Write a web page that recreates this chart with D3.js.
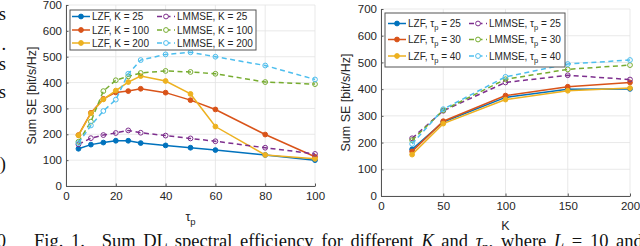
<!DOCTYPE html>
<html>
<head>
<meta charset="utf-8">
<script src="https://d3js.org/d3.v7.min.js"></script>
<style>
  body { margin: 0; background: #fff; }
  svg { display: block; }
  .tick text { font-family: "Liberation Sans", Arial, sans-serif; font-size: 11.5px; fill: #262626; }
</style>
</head>
<body>
<svg id="chart"></svg>
<script>
// left panel: sum SE vs tau_p
var tauVals = [5, 10, 15, 20, 25, 30, 40, 50, 60, 80, 100];
var lzfK25 = [144, 160, 168, 175, 175, 166, 157, 148, 139, 120, 100];
var lzfK100 = [197, 283, 337, 362, 367, 376, 361, 332, 296, 199, 113];
var lzfK200 = [196, 281, 335, 369, 402, 425, 406, 356, 230, 120, 105];
var lmmseK25 = [161, 185, 197, 205, 215, 206, 195, 184, 173, 148, 124];
var lmmseK100 = [171, 249, 367, 409, 424, 437, 445, 441, 434, 402, 394];
var lmmseK200 = [166, 234, 290, 334, 434, 487, 509, 517, 500, 466, 412];

// right panel: sum SE vs K
var kVals = [25, 50, 100, 150, 200];
var lzfT25 = [175, 277, 369, 400, 401];
var lzfT30 = [167, 280, 376, 409, 425];
var lzfT40 = [155, 271, 361, 394, 404];
var lmmseT25 = [216, 319, 425, 452, 436];
var lmmseT30 = [209, 321, 437, 474, 490];
var lmmseT40 = [195, 325, 446, 494, 509];

var yTicks = [0, 100, 200, 300, 400, 500, 600, 700];
var leftXTicks = [0, 20, 40, 60, 80, 100];
var rightXTicks = [0, 50, 100, 150, 200];

var colors = ["#0072BD", "#D95319", "#EDB120", "#7E2F8E", "#77AC30", "#4DBEEE"];
var sans = "'Liberation Sans', Arial, sans-serif";
var serif = "'Liberation Serif', 'Times New Roman', serif";

var width = 640, height = 246;
var svg = d3.select("#chart").attr("width", width).attr("height", height);

function drawPanel(p) {
    var x = d3.scaleLinear().domain([0, p.xmax]).range([p.left, p.right]);
    var y = d3.scaleLinear().domain([0, 700]).range([p.bottom, p.top]);
    var g = svg.append("g");

    // grid
    g.selectAll(".gx").data(p.xTicks).enter().append("line")
        .attr("x1", function(d) { return x(d); }).attr("x2", function(d) { return x(d); })
        .attr("y1", p.top).attr("y2", p.bottom)
        .attr("stroke", "#e3e3e3").attr("stroke-width", 0.8);
    g.selectAll(".gy").data(yTicks).enter().append("line")
        .attr("x1", p.left).attr("x2", p.right)
        .attr("y1", function(d) { return y(d); }).attr("y2", function(d) { return y(d); })
        .attr("stroke", "#e3e3e3").attr("stroke-width", 0.8);

    var xAxis = g.append("g").attr("transform", "translate(0," + p.bottom + ")")
        .call(d3.axisBottom(x).tickValues(p.xTicks).tickSizeInner(-2.5).tickSizeOuter(0).tickPadding(6));
    var yAxis = g.append("g").attr("transform", "translate(" + p.left + ",0)")
        .call(d3.axisLeft(y).tickValues(yTicks).tickSizeInner(-2.5).tickSizeOuter(0).tickPadding(4));
    [xAxis, yAxis].forEach(function(a) {
        a.select(".domain").attr("stroke", "#555");
        a.selectAll(".tick line").attr("stroke", "#555");
    });

    // y label
    g.append("text")
        .attr("transform", "translate(" + p.ylabelX + "," + ((p.top + p.bottom) / 2) + ") rotate(-90)")
        .attr("text-anchor", "middle")
        .style("font-family", sans).style("font-size", "12.5px").attr("fill", "#262626")
        .text("Sum SE [bit/s/Hz]");

    // x label
    var xl = g.append("text")
        .attr("x", (p.left + p.right) / 2).attr("y", p.xlabelY)
        .attr("text-anchor", "middle")
        .style("font-family", sans).style("font-size", "12.5px").attr("fill", "#262626");
    if (p.xlabelSub) {
        xl.append("tspan").text(p.xlabel);
        xl.append("tspan").attr("dy", 4).style("font-size", "9.5px").text(p.xlabelSub);
    } else {
        xl.text(p.xlabel);
    }

    var line = d3.line()
        .x(function(d) { return x(d[0]); })
        .y(function(d) { return y(d[1]); });

    p.series.forEach(function(s, i) {
        var pts = p.xVals.map(function(v, j) { return [v, s.values[j]]; });
        g.append("path").datum(pts)
            .attr("d", line).attr("fill", "none")
            .attr("stroke", colors[i]).attr("stroke-width", 1.5)
            .attr("stroke-dasharray", s.dashed ? "5,3.5" : null);
        g.selectAll(".m" + i).data(pts).enter().append("circle")
            .attr("cx", function(d) { return x(d[0]); })
            .attr("cy", function(d) { return y(d[1]); })
            .attr("r", 2.4)
            .attr("fill", s.dashed ? "none" : colors[i])
            .attr("stroke", colors[i]).attr("stroke-width", 1);
    });

    // legend
    var L = p.legend;
    var lg = g.append("g");
    lg.append("rect").attr("x", L.x).attr("y", L.y).attr("width", L.w).attr("height", L.h)
        .attr("fill", "#fff").attr("stroke", "#555").attr("stroke-width", 1);
    p.series.forEach(function(s, i) {
        var col = i < 3 ? 0 : 1, row = i % 3;
        var lx = L.colX[col], ly = L.rowY[row];
        lg.append("line").attr("x1", lx).attr("x2", lx + 18).attr("y1", ly).attr("y2", ly)
            .attr("stroke", colors[i]).attr("stroke-width", 1.5)
            .attr("stroke-dasharray", s.dashed ? "5,3.5" : null);
        lg.append("circle").attr("cx", lx + 9).attr("cy", ly).attr("r", 2.4)
            .attr("fill", s.dashed ? "#fff" : colors[i])
            .attr("stroke", colors[i]).attr("stroke-width", 1);
        var t = lg.append("text").attr("x", lx + 20).attr("y", ly + 3.6)
            .style("font-family", sans).style("font-size", "10px").attr("fill", "#262626");
        t.append("tspan").text(s.prefix);
        if (s.sub) {
            t.append("tspan").attr("dy", 3).style("font-size", "7.5px").text(s.sub);
            t.append("tspan").attr("dy", -3).text(s.suffix);
        } else {
            t.append("tspan").text(s.suffix);
        }
    });
}

drawPanel({
    left: 66, right: 315, top: 5, bottom: 186, xmax: 100,
    xTicks: leftXTicks, xVals: tauVals,
    ylabelX: 36, xlabelY: 221, xlabel: "\u03C4", xlabelSub: "p",
    series: [
        { values: lzfK25, prefix: "LZF, K = 25", suffix: "" },
        { values: lzfK100, prefix: "LZF, K = 100", suffix: "" },
        { values: lzfK200, prefix: "LZF, K = 200", suffix: "" },
        { values: lmmseK25, dashed: true, prefix: "LMMSE, K = 25", suffix: "" },
        { values: lmmseK100, dashed: true, prefix: "LMMSE, K = 100", suffix: "" },
        { values: lmmseK200, dashed: true, prefix: "LMMSE, K = 200", suffix: "" }
    ],
    legend: { x: 70, y: 10, w: 186, h: 40, colX: [72, 157], rowY: [16.5, 30, 43] }
});

drawPanel({
    left: 381, right: 630, top: 9, bottom: 196, xmax: 200,
    xTicks: rightXTicks, xVals: kVals,
    ylabelX: 350, xlabelY: 230, xlabel: "K",
    series: [
        { values: lzfT25, prefix: "LZF, \u03C4", sub: "p", suffix: " = 25" },
        { values: lzfT30, prefix: "LZF, \u03C4", sub: "p", suffix: " = 30" },
        { values: lzfT40, prefix: "LZF, \u03C4", sub: "p", suffix: " = 40" },
        { values: lmmseT25, dashed: true, prefix: "LMMSE, \u03C4", sub: "p", suffix: " = 25" },
        { values: lmmseT30, dashed: true, prefix: "LMMSE, \u03C4", sub: "p", suffix: " = 30" },
        { values: lmmseT40, dashed: true, prefix: "LMMSE, \u03C4", sub: "p", suffix: " = 40" }
    ],
    legend: { x: 385, y: 13, w: 180, h: 54, colX: [388, 469], rowY: [23.5, 39.5, 56] }
});

// caption of the figure, cut by the bottom edge (justified, so wider word gaps)
var cap = svg.append("text").attr("x", 34).attr("y", 247)
    .style("font-family", serif).style("font-size", "18.5px").style("word-spacing", "3px").attr("fill", "#111");
cap.append("tspan").text("Fig. 1.\u2002 Sum DL spectral efficiency for different ");
cap.append("tspan").style("font-style", "italic").text("K");
cap.append("tspan").text(" and ");
cap.append("tspan").style("font-style", "italic").text("\u03C4");
cap.append("tspan").attr("dy", 4).style("font-size", "13px").text("p");
cap.append("tspan").attr("dy", -4).text(", where ");
cap.append("tspan").style("font-style", "italic").text("L");
cap.append("tspan").text(" = 10 and");

// fragments of the neighbouring text column at the left edge
var frags = [["s", 20], [".", 50], ["s", 70], ["s", 98], [")", 170], ["0", 247]];
svg.selectAll(".frag").data(frags).enter().append("text")
    .attr("x", 6).attr("y", function(d) { return d[1]; })
    .attr("text-anchor", "end")
    .style("font-family", serif).style("font-size", "18.5px").attr("fill", "#111")
    .text(function(d) { return d[0]; });
</script>
</body>
</html>
